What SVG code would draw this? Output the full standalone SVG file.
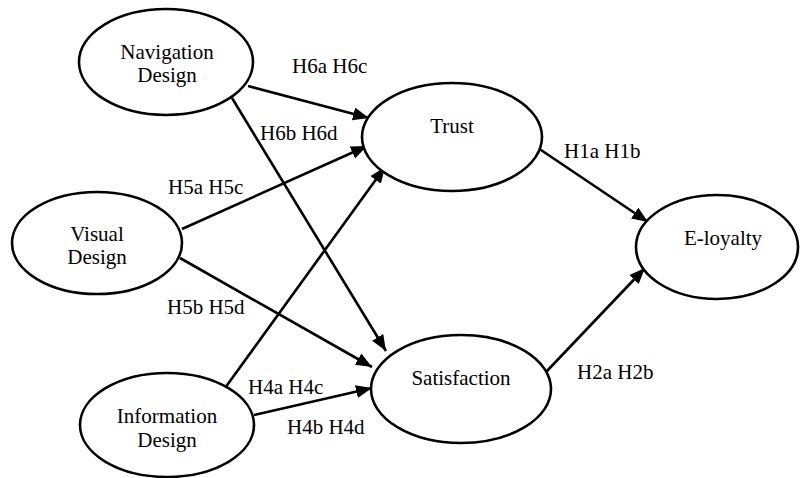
<svg xmlns="http://www.w3.org/2000/svg" width="800" height="478" viewBox="0 0 800 478">
  <defs>
    <marker id="arrow" markerUnits="userSpaceOnUse" markerWidth="18" markerHeight="14" refX="16" refY="6.5" orient="auto">
      <path d="M0,0 L16,6.5 L0,13 z" fill="#000"/>
    </marker>
  </defs>
  <rect width="800" height="478" fill="#fff"/>

  <!-- connectors -->
  <g id="connectors" stroke="#000" stroke-width="2.6" fill="none" marker-end="url(#arrow)">
    <line x1="248" y1="86" x2="369" y2="118"/>
    <line x1="232" y1="98" x2="386" y2="351"/>
    <line x1="182" y1="229" x2="367" y2="146"/>
    <line x1="180" y1="258" x2="372" y2="367"/>
    <line x1="225" y1="388" x2="385" y2="167"/>
    <line x1="254" y1="415" x2="372" y2="388"/>
    <line x1="538" y1="148" x2="648" y2="222"/>
    <line x1="546" y1="372" x2="645" y2="268"/>
  </g>

  <!-- connector labels -->
  <g id="labels" font-family="Times New Roman, Liberation Serif, serif" font-size="21">
    <text x="292" y="73">H6a H6c</text>
    <text x="260" y="140">H6b H6d</text>
    <text x="168" y="194">H5a H5c</text>
    <text x="167" y="314">H5b H5d</text>
    <text x="248" y="394">H4a H4c</text>
    <text x="287" y="434">H4b H4d</text>
    <text x="564" y="158">H1a H1b</text>
    <text x="577" y="379">H2a H2b</text>
  </g>

  <!-- nodes -->
  <g font-family="Times New Roman, Liberation Serif, serif" font-size="21" text-anchor="middle">
    <g id="navigation">
      <ellipse cx="166" cy="62" rx="87" ry="53" fill="#fff" stroke="#000" stroke-width="2.6"/>
      <text x="167" y="59">Navigation</text>
      <text x="167" y="82">Design</text>
    </g>
    <g id="visual">
      <ellipse cx="97" cy="243" rx="85" ry="51" fill="#fff" stroke="#000" stroke-width="2.6"/>
      <text x="97" y="241">Visual</text>
      <text x="97" y="264">Design</text>
    </g>
    <g id="information">
      <ellipse cx="167" cy="425" rx="87" ry="52" fill="#fff" stroke="#000" stroke-width="2.6"/>
      <text x="167" y="423">Information</text>
      <text x="167" y="447">Design</text>
    </g>
    <g id="trust">
      <ellipse cx="452" cy="137" rx="90" ry="54" fill="#fff" stroke="#000" stroke-width="2.6"/>
      <text x="452" y="133">Trust</text>
    </g>
    <g id="satisfaction">
      <ellipse cx="461" cy="389" rx="90" ry="54" fill="#fff" stroke="#000" stroke-width="2.6"/>
      <text x="461" y="385">Satisfaction</text>
    </g>
    <g id="eloyalty">
      <ellipse cx="717" cy="247" rx="81" ry="52" fill="#fff" stroke="#000" stroke-width="2.6"/>
      <text x="723" y="245">E-loyalty</text>
    </g>
  </g>
</svg>
